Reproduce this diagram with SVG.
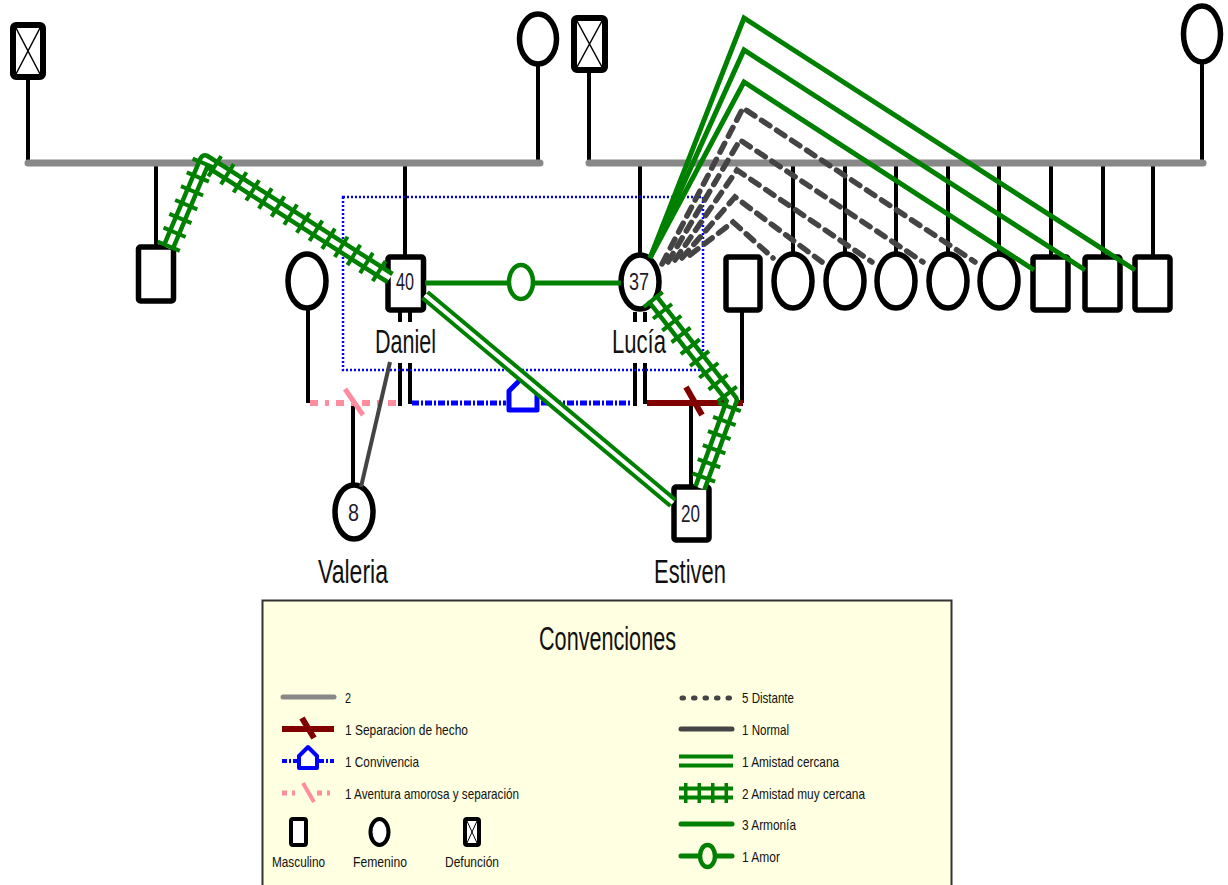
<svg xmlns="http://www.w3.org/2000/svg" width="1228" height="885" viewBox="0 0 1228 885">
<defs>
<style>
.bg{fill:#ffffff}
.m{fill:#fff;stroke:#000;stroke-width:5.5}
.f{fill:#fff;stroke:#000;stroke-width:5.5}
.d{fill:#fff;stroke:#000;stroke-width:6}
.x{stroke:#000;stroke-width:1.5;fill:none}
.v{stroke:#000;stroke-width:4;fill:none}
.fam{stroke:#888;stroke-width:7;fill:none;stroke-linecap:round}
.lbl{font-family:"Liberation Sans",Arial,sans-serif;font-size:34px;fill:#111}
.num{font-family:"Liberation Sans",Arial,sans-serif;font-size:23px;fill:#1b1b2b}
.lt{font-family:"Liberation Sans",Arial,sans-serif;font-size:14.5px;fill:#111}
.g5{stroke:#008000;stroke-width:5;fill:none}
.gdo{stroke:#008000;stroke-width:12;fill:none;stroke-linejoin:miter}
.gdi{stroke:#fff;stroke-width:4;fill:none}
.mco{stroke:#008000;stroke-width:14;fill:none;stroke-linejoin:round}
.mci{stroke:#fff;stroke-width:5;fill:none;stroke-linejoin:round}
.mct{stroke:#008000;stroke-width:24;fill:none;stroke-dasharray:4 11}
.dist{stroke:#444;stroke-width:5.5;fill:none;stroke-dasharray:10 8;stroke-linecap:round}
.blue{stroke:#0000ff;stroke-width:5;fill:none;stroke-dasharray:7 2 2 2}
.pink{stroke:#ff8c9f;stroke-width:6;fill:none;stroke-dasharray:8 7 4 7}
.sep{stroke:#800000;stroke-width:6;fill:none}
.norm{stroke:#444;stroke-width:4;fill:none}
</style>
</defs>
<rect class="bg" x="0" y="0" width="1228" height="885"/>

<g id="nodes">
 <g id="gf-left"><rect class="d" x="13" y="25" width="30" height="52" rx="3"/><path class="x" d="M16 28 L40 74 M40 28 L16 74"/></g>
 <g id="gm-left"><ellipse class="f" cx="538" cy="39" rx="18.5" ry="25"/></g>
 <g id="gf-right"><rect class="d" x="574" y="18" width="31" height="52" rx="3"/><path class="x" d="M577 21 L602 67 M602 21 L577 67"/></g>
 <g id="gm-right"><ellipse class="f" cx="1202" cy="34" rx="18.5" ry="28"/></g>
 <g id="brother-daniel"><rect class="m" x="138.5" y="247" width="35" height="54" rx="2"/></g>
 <g id="daniel"><rect class="m" x="388" y="257" width="35.5" height="53" rx="2"/><text class="num" x="396" y="290" textLength="18" lengthAdjust="spacingAndGlyphs">40</text><text class="lbl" x="375" y="353" textLength="61" lengthAdjust="spacingAndGlyphs">Daniel</text></g>
 <g id="mother-valeria"><ellipse class="f" cx="307" cy="281" rx="19" ry="27"/></g>
 <g id="lucia"><ellipse class="f" cx="640" cy="282" rx="19" ry="27"/><text class="num" x="629" y="290" textLength="20" lengthAdjust="spacingAndGlyphs">37</text><text class="lbl" x="612" y="353" textLength="54" lengthAdjust="spacingAndGlyphs">Lucía</text></g>
 <g id="ex-lucia"><rect class="m" x="726" y="257" width="34" height="53" rx="2"/></g>
 <g id="sis1"><ellipse class="f" cx="793" cy="281" rx="19" ry="27"/></g>
 <g id="sis2"><ellipse class="f" cx="845" cy="281" rx="19" ry="27"/></g>
 <g id="sis3"><ellipse class="f" cx="896" cy="281" rx="19" ry="27"/></g>
 <g id="sis4"><ellipse class="f" cx="948" cy="281" rx="19" ry="27"/></g>
 <g id="sis5"><ellipse class="f" cx="999" cy="281" rx="19" ry="27"/></g>
 <g id="bro1"><rect class="m" x="1033" y="257" width="35" height="53" rx="2"/></g>
 <g id="bro2"><rect class="m" x="1085" y="257" width="35" height="53" rx="2"/></g>
 <g id="bro3"><rect class="m" x="1135" y="257" width="35" height="53" rx="2"/></g>
 <g id="valeria"><ellipse class="f" cx="354" cy="512" rx="19" ry="27"/><text class="num" x="348" y="521" textLength="11" lengthAdjust="spacingAndGlyphs">8</text><text class="lbl" x="318" y="583" textLength="70" lengthAdjust="spacingAndGlyphs">Valeria</text></g>
 <g id="estiven"><rect class="m" x="674" y="487" width="35" height="53" rx="2"/><text class="num" x="681" y="522" textLength="19" lengthAdjust="spacingAndGlyphs">20</text><text class="lbl" x="654" y="583" textLength="72" lengthAdjust="spacingAndGlyphs">Estiven</text></g>
</g>

<g id="connectors">
 <path class="v" d="M28 80 V163 M538 64 V163 M156 163 V247 M405 163 V257"/>
 <path class="fam" d="M28 163 H540"/>
 <path class="v" d="M589 70 V163 M1202 62 V163 M640 163 V255 M793 163 V254 M845 163 V254 M896 163 V254 M948 163 V254 M999 163 V254 M1051 163 V257 M1103 163 V257 M1153 163 V257"/>
 <path class="fam" d="M589 163 H1203"/>
 <path class="v" d="M400 312 V322 M410 312 V322 M400 363 V406 M410 363 V404 M635 312 V322 M645 312 V322 M635 363 V406 M645 363 V404 M308 308 V403 M742 310 V403 M353 403 V485 M691 403 V487"/>
 <rect x="343" y="197" width="360" height="173" fill="none" stroke="#0000ff" stroke-width="2.5" stroke-dasharray="2 2"/>
 <path class="pink" d="M310 403 H397"/>
 <path stroke="#ff8c9f" stroke-width="5" d="M345 389 L363 415"/>
 <path class="blue" d="M412 403 H506 M541 403 H632"/>
 <path d="M509 410 V391 L523 377 L537 391 V410 Z" fill="#fff" stroke="#0000ff" stroke-width="5" stroke-linejoin="round"/>
 <path class="sep" d="M647 403 H743"/>
 <path class="sep" d="M686 387 L702 415" stroke-width="5"/>
 <path class="norm" d="M390 362 L361 487"/>
 <path class="g5" d="M425 283 H508 M534 283 H621"/>
 <ellipse cx="521" cy="282" rx="12" ry="17" fill="#fff" stroke="#008000" stroke-width="4.5"/>
 <path class="gdo" d="M425 295 L673 503"/>
 <path class="gdi" d="M425 295 L673 503"/>
 <path class="mco" d="M168 248 L205 160 L390 278"/>
 <path class="mci" d="M168 248 L205 160 L390 278"/>
 <path class="mct" d="M168 248 L205 160 L390 278"/>
 <path class="mco" d="M652 298 L732 400 L700 488"/>
 <path class="mci" d="M652 298 L732 400 L700 488"/>
 <path class="mct" d="M652 298 L732 400 L700 488"/>
 <path class="dist" d="M662 264 L743 108 L975 262"/>
 <path class="dist" d="M668 262 L740 140 L923 262"/>
 <path class="dist" d="M675 260 L737 170 L872 262"/>
 <path class="dist" d="M682 258 L735 197 L822 262"/>
 <path class="dist" d="M690 255 L733 222 L773 258"/>
 <path class="g5" d="M650 258 L744 18 L1135 270"/>
 <path class="g5" d="M650 258 L744 50 L1085 270"/>
 <path class="g5" d="M650 258 L744 82 L1034 270"/>
</g>

<g id="legend">
 <rect x="262.5" y="600.5" width="689" height="300" fill="#ffffe1" stroke="#333" stroke-width="2"/>
 <text class="lbl" x="539" y="650" textLength="137" lengthAdjust="spacingAndGlyphs">Convenciones</text>
 <path stroke="#888" stroke-width="5" d="M283 697 H334" stroke-linecap="round"/>
 <text class="lt" x="345" y="703" textLength="6" lengthAdjust="spacingAndGlyphs">2</text>
 <path class="sep" stroke-width="5" d="M282 729 H334 M302 718 L314 738"/>
 <text class="lt" x="345" y="735" textLength="123" lengthAdjust="spacingAndGlyphs">1 Separacion de hecho</text>
 <path stroke="#0000ff" stroke-width="4" stroke-dasharray="5 2 2 2" d="M282 761 H297 M319 761 H334"/>
 <path d="M299 768 V756 L308 747 L317 756 V768 Z" fill="#fff" stroke="#0000ff" stroke-width="4" stroke-linejoin="round"/>
 <text class="lt" x="345" y="767" textLength="74" lengthAdjust="spacingAndGlyphs">1 Convivencia</text>
 <path stroke="#ff8c9f" stroke-width="5" stroke-dasharray="5 5 3 5" d="M282 793 H300 M317 793 H334"/>
 <path stroke="#ff8c9f" stroke-width="4" d="M303 783 L314 802"/>
 <text class="lt" x="345" y="799" textLength="174" lengthAdjust="spacingAndGlyphs">1 Aventura amorosa y separación</text>
 <rect x="291" y="819" width="15" height="26" rx="2" fill="#fff" stroke="#000" stroke-width="4"/>
 <ellipse cx="379.5" cy="832" rx="9" ry="13" fill="#fff" stroke="#000" stroke-width="4"/>
 <rect x="465" y="819" width="14" height="26" rx="2" fill="#fff" stroke="#000" stroke-width="4"/>
 <path stroke="#000" stroke-width="1" d="M467 821 L477 843 M477 821 L467 843"/>
 <text class="lt" x="272" y="867" textLength="53" lengthAdjust="spacingAndGlyphs">Masculino</text>
 <text class="lt" x="353" y="867" textLength="54" lengthAdjust="spacingAndGlyphs">Femenino</text>
 <text class="lt" x="445" y="867" textLength="54" lengthAdjust="spacingAndGlyphs">Defunción</text>

 <path stroke="#444" stroke-width="5" stroke-dasharray="1.5 10" stroke-linecap="round" d="M682 698 H733"/>
 <text class="lt" x="742" y="703" textLength="52" lengthAdjust="spacingAndGlyphs">5 Distante</text>
 <path stroke="#444" stroke-width="5" stroke-linecap="round" d="M681 729 H732"/>
 <text class="lt" x="742" y="735" textLength="47" lengthAdjust="spacingAndGlyphs">1 Normal</text>
 <path stroke="#008000" stroke-width="13" d="M679 761 H733"/>
 <path stroke="#ffffe1" stroke-width="5" d="M679 761 H733"/>
 <text class="lt" x="742" y="767" textLength="97" lengthAdjust="spacingAndGlyphs">1 Amistad cercana</text>
 <path stroke="#008000" stroke-width="13" d="M679 793 H733"/>
 <path stroke="#ffffe1" stroke-width="5" d="M679 793 H733"/>
 <path stroke="#008000" stroke-width="20" stroke-dasharray="3.5 10" d="M684 793 H733"/>
 <text class="lt" x="742" y="799" textLength="123" lengthAdjust="spacingAndGlyphs">2 Amistad muy cercana</text>
 <path stroke="#008000" stroke-width="5" stroke-linecap="round" d="M681 824 H732"/>
 <text class="lt" x="742" y="830" textLength="54" lengthAdjust="spacingAndGlyphs">3 Armonía</text>
 <path stroke="#008000" stroke-width="5" stroke-linecap="round" d="M681 856 H699 M716 856 H732"/>
 <ellipse cx="707.5" cy="856" rx="7.5" ry="11" fill="#ffffe1" stroke="#008000" stroke-width="4.5"/>
 <text class="lt" x="742" y="862" textLength="38" lengthAdjust="spacingAndGlyphs">1 Amor</text>
</g>
</svg>
